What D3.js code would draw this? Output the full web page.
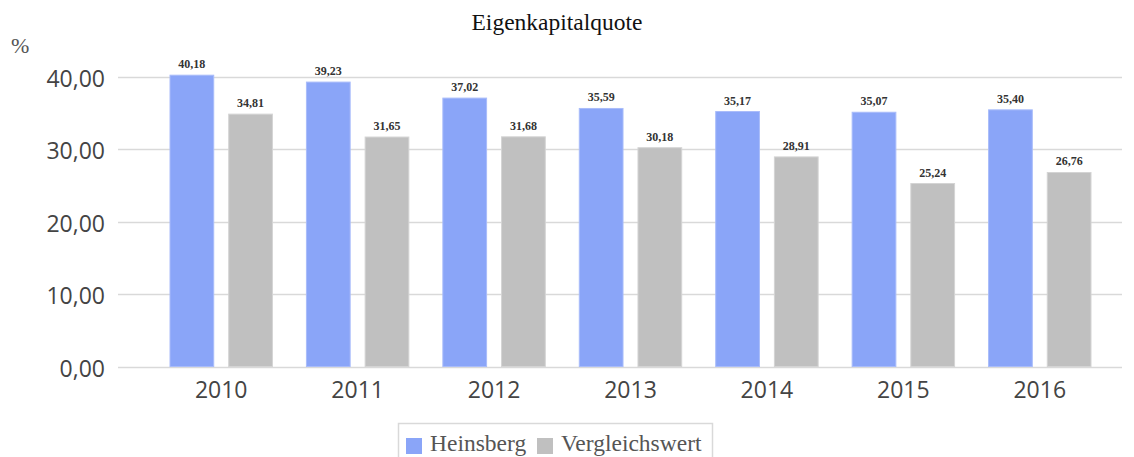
<!DOCTYPE html>
<html>
<head>
<meta charset="utf-8">
<script src="https://cdn.jsdelivr.net/npm/d3@7"></script>
<style>
  body { margin: 0; background: #fff; }
  svg { display: block; }
</style>
</head>
<body>
<svg width="1134" height="457"></svg>
<script>
var years = ["2010", "2011", "2012", "2013", "2014", "2015", "2016"];
var heinsberg = [40.18, 39.23, 37.02, 35.59, 35.17, 35.07, 35.40];
var vergleich = [34.81, 31.65, 31.68, 30.18, 28.91, 25.24, 26.76];
var seriesNames = ["Heinsberg", "Vergleichswert"];
var yTicks = [0, 10, 20, 30, 40];

var colors = ["#8aa5f8", "#c0c0c0"],
    strokes = ["#a9bcfa", "#d4d4d4"];

var svg = d3.select("svg"),
    width = +svg.attr("width"),
    height = +svg.attr("height");

var fmt = function(v) { return d3.format(".2f")(v).replace(".", ","); };

var x = d3.scaleBand().domain(years).range([153, 1108]),
    y = d3.scaleLinear().domain([0, 40]).range([366.5, 76.5]);

// two bars per year
var inner = d3.scaleBand().domain([0, 1]).range([17, x.bandwidth() - 17]).paddingInner(0.255);

// gridlines
svg.append("g")
    .selectAll("line")
    .data(yTicks)
    .enter().append("line")
    .attr("x1", 118).attr("x2", 1122)
    .attr("y1", function(d) { return Math.round(y(d)) + 0.5; })
    .attr("y2", function(d) { return Math.round(y(d)) + 0.5; })
    .attr("stroke", "#d9d9d9")
    .attr("stroke-width", 1.5);

// y axis labels
svg.append("g")
    .selectAll("text")
    .data(yTicks)
    .enter().append("text")
    .attr("x", 105)
    .attr("y", function(d) { return y(d) + 10; })
    .attr("text-anchor", "end")
    .attr("font-family", "Open Sans")
    .attr("font-size", 23)
    .attr("fill", "#444")
    .text(fmt);

// x axis labels
svg.append("g")
    .selectAll("text")
    .data(years)
    .enter().append("text")
    .attr("x", function(d) { return x(d) + x.bandwidth() / 2; })
    .attr("y", 398)
    .attr("text-anchor", "middle")
    .attr("font-family", "Open Sans")
    .attr("font-size", 23)
    .attr("fill", "#444")
    .text(function(d) { return d; });

var series = [heinsberg, vergleich];

series.forEach(function(vals, s) {
    var g = svg.append("g");
    g.selectAll("rect")
        .data(vals)
        .enter().append("rect")
        .attr("x", function(d, i) { return x(years[i]) + inner(s); })
        .attr("y", function(d) { return y(d); })
        .attr("width", inner.bandwidth())
        .attr("height", function(d) { return y(0) - y(d); })
        .attr("fill", colors[s])
        .attr("stroke", strokes[s])
        .attr("stroke-width", 1);
    g.selectAll("text")
        .data(vals)
        .enter().append("text")
        .attr("x", function(d, i) { return x(years[i]) + inner(s) + inner.bandwidth() / 2; })
        .attr("y", function(d) { return y(d) - 7; })
        .attr("text-anchor", "middle")
        .attr("font-family", "Liberation Serif")
        .attr("font-weight", "bold")
        .attr("font-size", 12)
        .attr("fill", "#333")
        .text(fmt);
});

// title
svg.append("text")
    .attr("x", 557).attr("y", 30)
    .attr("text-anchor", "middle")
    .attr("font-family", "Liberation Serif")
    .attr("font-size", 23.5)
    .attr("fill", "#111")
    .text("Eigenkapitalquote");

// unit
svg.append("text")
    .attr("x", 11).attr("y", 53)
    .attr("font-family", "Liberation Serif")
    .attr("font-size", 22)
    .attr("fill", "#555")
    .text("%");

// legend
var legend = svg.append("g");
legend.append("rect")
    .attr("x", 398.5).attr("y", 423.5)
    .attr("width", 314).attr("height", 40)
    .attr("fill", "none")
    .attr("stroke", "#d9d9d9")
    .attr("stroke-width", 1.5);

var legX = [406, 537];
seriesNames.forEach(function(name, i) {
    legend.append("rect")
        .attr("x", legX[i]).attr("y", 438)
        .attr("width", 16).attr("height", 16)
        .attr("fill", colors[i]);
    legend.append("text")
        .attr("x", legX[i] + 24).attr("y", 451)
        .attr("font-family", "Liberation Serif")
        .attr("font-size", 23.5)
        .attr("fill", "#555")
        .text(name);
});
</script>
</body>
</html>
